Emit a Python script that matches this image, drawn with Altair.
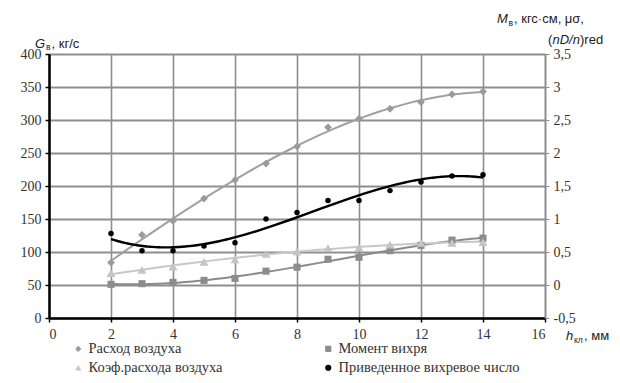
import altair as alt
import pandas as pd

# ---- data ----
h_kl = [2, 3, 4, 5, 6, 7, 8, 9, 10, 11, 12, 13, 14]
rashod = [84, 126, 147, 181, 209, 234, 260, 289, 302, 317, 327, 339, 343]          # left axis, кг/с
moment = [0.01, 0.02, 0.04, 0.07, 0.10, 0.21, 0.27, 0.39, 0.42, 0.52, 0.60, 0.68, 0.71]  # right axis
koef = [0.18, 0.23, 0.28, 0.35, 0.39, 0.47, 0.51, 0.56, 0.57, 0.61, 0.64, 0.64, 0.65]    # right axis
vihr = [0.78, 0.52, 0.52, 0.59, 0.64, 1.00, 1.10, 1.28, 1.28, 1.43, 1.56, 1.65, 1.67]    # right axis

names = ["Расход воздуха", "Момент вихря", "Коэф.расхода воздуха", "Приведенное вихревое число"]
colors = ["#9a9a9a", "#8c8c8c", "#c4c4c4", "#000000"]
line_colors = ["#a0a0a0", "#8a8a8a", "#c8c8c8", "#000000"]
shapes = ["diamond", "square", "triangle-up", "circle"]
sizes = [60, 50, 80, 30]
orders = [3, 3, 2, 3]

left_ticks = [0, 50, 100, 150, 200, 250, 300, 350, 400]
right_ticks = [-0.5, 0, 0.5, 1, 1.5, 2, 2.5, 3, 3.5]
x_ticks = [0, 2, 4, 6, 8, 10, 12, 14, 16]

df_left = pd.DataFrame({"h": h_kl, "v": rashod, "series": names[0]})
df_right = pd.concat([
    pd.DataFrame({"h": h_kl, "v": moment, "series": names[1]}),
    pd.DataFrame({"h": h_kl, "v": koef, "series": names[2]}),
    pd.DataFrame({"h": h_kl, "v": vihr, "series": names[3]}),
], ignore_index=True)

SERIF = "Liberation Serif"
SANS = "Liberation Sans"
GRID = "#8e8e8e"
W, H = 496, 264

xenc = alt.X("h:Q", scale=alt.Scale(domain=[0, 16], nice=False, zero=False),
             axis=alt.Axis(values=x_ticks, title=None, grid=True, domainColor="#000", domainWidth=2.5,
                           tickColor="#000", tickSize=4, tickWidth=1.5, labelFont=SERIF, labelFontSize=14,
                           labelColor="#333", labelPadding=5, gridColor=GRID, gridWidth=1.6))

color_scale = alt.Scale(domain=names, range=colors)
shape_scale = alt.Scale(domain=names, range=shapes)
legend = alt.Legend(title=None, orient="none", legendX=22, legendY=287.5, columns=2, direction="horizontal",
                    columnPadding=98, rowPadding=4, symbolSize=38, labelFont=SERIF, labelFontSize=14.5,
                    labelColor="#333", labelOffset=3, symbolStrokeWidth=0, symbolType="circle",
                    labelLimit=400)

yl = alt.Y("v:Q", scale=alt.Scale(domain=[0, 400], nice=False),
           axis=alt.Axis(orient="left", values=left_ticks, title=None, grid=True, gridColor=GRID,
                         gridWidth=2, domainColor="#000",
                         domainWidth=2.5, tickColor="#000", tickSize=4, tickWidth=1.5, labelFont=SERIF,
                         labelFontSize=14, labelColor="#333", labelPadding=4))
yr_axis = alt.Axis(orient="right", values=right_ticks, title=None, grid=False, domainColor=GRID,
                   domainWidth=1.6, tickColor=GRID, tickSize=4, labelFont=SERIF, labelFontSize=14,
                   labelColor="#333", labelPadding=4,
                   labelExpr="(datum.value < 0 ? '-' : '') + replace(format(abs(datum.value), '~g'), '.', ',')")
yr = alt.Y("v:Q", scale=alt.Scale(domain=[-0.5, 3.5], nice=False), axis=yr_axis)


def line_layer(df, i, yenc):
    return alt.Chart(df[df.series == names[i]]).transform_regression(
        "h", "v", method="poly", order=orders[i], extent=[2, 14]
    ).mark_line(color=line_colors[i], strokeWidth=2.4 if i == 3 else 2).encode(x=xenc, y=yenc)


left_layer = alt.layer(
    line_layer(df_left, 0, yl),
    alt.Chart(df_left).mark_point(filled=True, opacity=1, size=sizes[0]).encode(
        x=xenc, y=yl,
        color=alt.Color("series:N", scale=color_scale, legend=legend),
        shape=alt.Shape("series:N", scale=shape_scale, legend=legend),
    ),
)

right_pts = []
for i in (1, 2, 3):
    right_pts.append(
        alt.Chart(df_right[df_right.series == names[i]]).mark_point(filled=True, opacity=1, size=sizes[i]).encode(
            x=xenc, y=yr,
            color=alt.Color("series:N", scale=color_scale, legend=legend),
            shape=alt.Shape("series:N", scale=shape_scale, legend=legend),
        )
    )
right_layer = alt.layer(
    line_layer(df_right, 1, yr), line_layer(df_right, 2, yr),
    right_pts[0], right_pts[1], line_layer(df_right, 3, yr), right_pts[2],
)


def txt(s, x, y, size=13, italic=False, align="left"):
    return alt.Chart(pd.DataFrame({"t": [s]})).mark_text(
        font=SANS, fontSize=size, fontStyle="italic" if italic else "normal", align=align,
        baseline="alphabetic", color="#222"
    ).encode(text="t:N", x=alt.value(x), y=alt.value(y))


titles = alt.layer(
    txt("G", -14, -6.5, italic=True), txt("в", -3, -4, size=8.5), txt(", кг/с", 2.5, -6.5),
    txt("M", 448, -31, italic=True), txt("в", 459.5, -28.5, size=8.5), txt(", кгс·см, μσ,", 465, -31),
    txt("(", 499, -10.5), txt("nD/n", 503.5, -10.5, italic=True), txt(")red", 531, -10.5),
    txt("h", 517, 286, italic=True), txt("кл", 525, 288.5, size=8.5), txt(", мм", 535, 286),
)

chart = alt.layer(left_layer, right_layer, titles).resolve_scale(y="independent").properties(
    width=W, height=H, autosize="none",
    padding={"left": 41, "top": 46, "right": 67, "bottom": 57},
).configure_view(strokeWidth=0).configure(background="white")

chart.save("out.html", embed_options={"renderer": "svg", "actions": False})
